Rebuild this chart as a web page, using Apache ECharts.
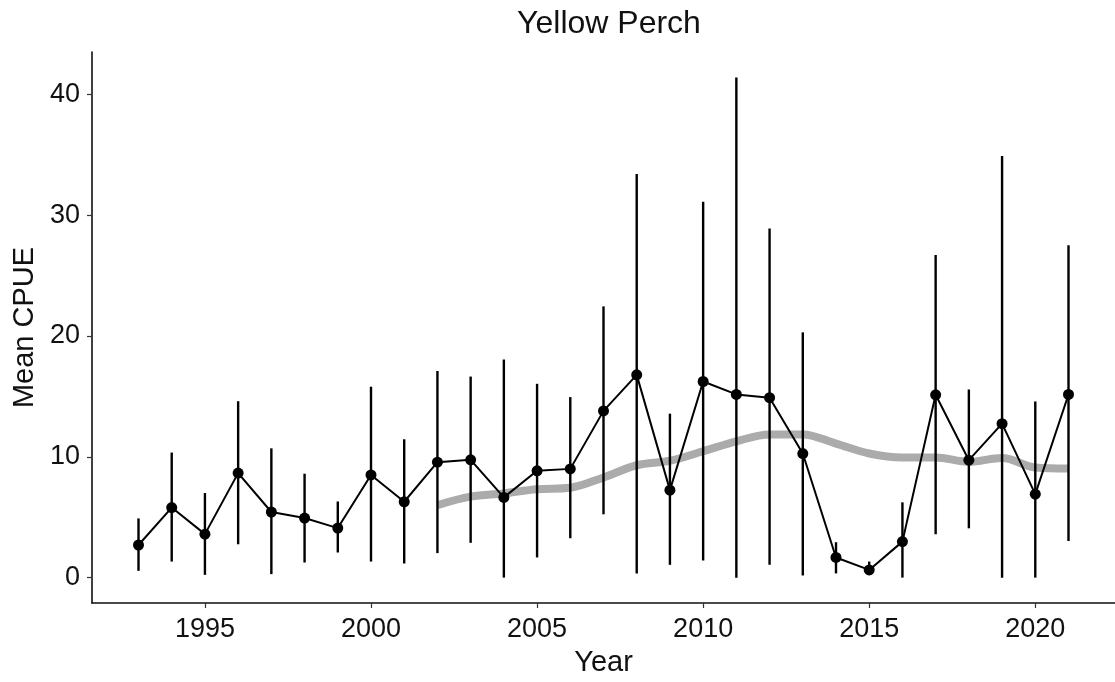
<!DOCTYPE html>
<html>
<head>
<meta charset="utf-8">
<script src="https://cdn.jsdelivr.net/npm/echarts@6/dist/echarts.min.js"></script>
<style>
html,body{margin:0;padding:0;background:#fff;}
#chart{width:1115px;height:682px;}
</style>
</head>
<body>
<div id="chart"></div>
<script>
const years = [1993,1994,1995,1996,1997,1998,1999,2000,2001,2002,2003,2004,2005,2006,2007,2008,2009,2010,2011,2012,2013,2014,2015,2016,2017,2018,2019,2020,2021];
const meanCPUE = [2.7,5.8,3.6,8.65,5.43,4.93,4.1,8.5,6.28,9.55,9.75,6.64,8.84,9.0,13.8,16.78,7.24,16.23,15.16,14.89,10.27,1.67,0.64,2.98,15.13,9.72,12.74,6.91,15.16];
const lowerCI = [0.56,1.33,0.23,2.76,0.29,1.25,2.08,1.33,1.17,2.03,2.88,0,1.67,3.26,5.24,0.35,1.06,1.42,0,1.06,0.18,0.35,0.29,0,3.59,4.08,0,0,3.03];
const upperCI = [4.9,10.35,7.0,14.6,10.7,8.6,6.3,15.8,11.45,17.1,16.64,18.05,16.04,14.94,22.45,33.4,13.57,31.1,41.4,28.9,20.3,2.93,1.33,6.23,26.7,15.57,34.9,14.58,27.5];
const trendYears = [2002,2003,2004,2005,2006,2007,2008,2009,2010,2011,2012,2013,2014,2015,2016,2017,2018,2019,2020,2021];
const trendValues = [6.0,6.7,6.97,7.32,7.44,8.29,9.3,9.67,10.46,11.28,11.85,11.85,11.09,10.27,9.94,9.94,9.58,9.9,9.11,9.03];
const xTickLabels = [1995,2000,2005,2010,2015,2020];
const yTickLabels = [0,10,20,30,40];

const FONT = "'Liberation Sans', Arial, sans-serif";
const chart = echarts.init(document.getElementById('chart'), null, {renderer:'canvas'});

const option = {
  backgroundColor: '#fff',
  animation: false,
  title: {
    text: 'Yellow Perch',
    left: 604, top: 3, textAlign: 'center',
    textStyle: {fontFamily: FONT, fontSize: 32, fontWeight: 'normal', color: '#111'}
  },
  grid: {left: 92, right: 0, top: 52, bottom: 77, containLabel: false},
  xAxis: {
    type: 'value', min: 1991.6, max: 2022.4,
    name: 'Year', nameLocation: 'middle', nameGap: 45,
    nameTextStyle: {fontFamily: FONT, fontSize: 29, color: '#111'},
    axisLine: {onZero: false, lineStyle: {color: '#111', width: 1.6}},
    axisTick: {show: true, length: 5, customValues: xTickLabels, lineStyle: {color: '#333', width: 1.2}},
    axisLabel: {customValues: xTickLabels, margin: 13, fontFamily: FONT, fontSize: 27, color: '#111',
                formatter: function (v) { return String(v); }},
    splitLine: {show: false}
  },
  yAxis: {
    type: 'value', min: -2.1, max: 43.5,
    name: 'Mean CPUE', nameLocation: 'middle', nameGap: 52, nameRotate: 90,
    nameTextStyle: {fontFamily: FONT, fontSize: 29, color: '#111'},
    axisLine: {show: true, lineStyle: {color: '#111', width: 1.6}},
    axisTick: {show: true, length: 5, customValues: yTickLabels, lineStyle: {color: '#333', width: 1.2}},
    axisLabel: {customValues: yTickLabels, margin: 12, fontFamily: FONT, fontSize: 27, color: '#111',
                formatter: function (v) { return String(v); }},
    splitLine: {show: false}
  },
  series: [
    {
      type: 'line', name: 'trend',
      data: trendYears.map((y, i) => [y, trendValues[i]]),
      smooth: 0.35, showSymbol: false, symbol: 'none',
      lineStyle: {color: '#ababab', width: 8},
      z: 1
    },
    {
      type: 'custom', name: 'ci',
      data: years.map((y, i) => [y, lowerCI[i], upperCI[i]]),
      encode: {x: 0, y: [1, 2]},
      renderItem: function (params, api) {
        const x = api.value(0);
        const p1 = api.coord([x, api.value(1)]);
        const p2 = api.coord([x, api.value(2)]);
        return {type: 'line', shape: {x1: p1[0], y1: p1[1], x2: p2[0], y2: p2[1]},
                style: {stroke: '#000', lineWidth: 2.4}};
      },
      z: 2
    },
    {
      type: 'line', name: 'mean',
      data: years.map((y, i) => [y, meanCPUE[i]]),
      symbol: 'circle', symbolSize: 11, showSymbol: true,
      itemStyle: {color: '#000'},
      lineStyle: {color: '#000', width: 2},
      z: 3
    }
  ]
};
chart.setOption(option);
</script>
</body>
</html>
